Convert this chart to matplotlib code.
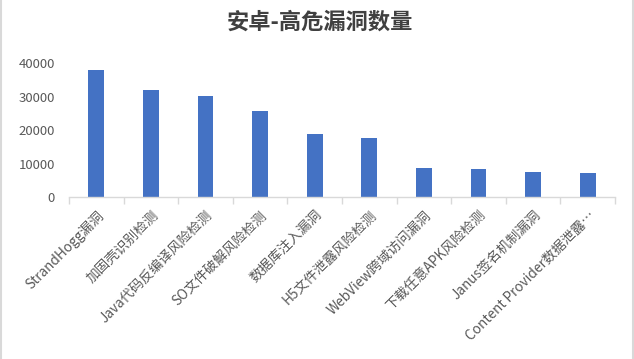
import numpy as np
import matplotlib
matplotlib.use('Agg')
import matplotlib.pyplot as plt
from matplotlib.lines import Line2D
from matplotlib.transforms import ScaledTranslation

plt.rcParams['font.family'] = ['Noto Sans CJK SC', 'DejaVu Sans']

categories = ['StrandHogg漏洞', '加固壳识别检测', 'Java代码反编译风险检测', 'SO文件破解风险检测',
              '数据库注入漏洞', 'H5文件泄露风险检测', 'WebView跨域访问漏洞', '下载任意APK风险检测',
              'Janus签名机制漏洞', 'Content Provider数据泄露…']
counts = [38000, 32000, 30300, 25800, 18900, 17700, 8700, 8400, 7500, 7200]
yticks = [0, 10000, 20000, 30000, 40000]

fig = plt.figure(figsize=(6.34, 3.59), dpi=100)
ax = fig.add_axes([69 / 634, 1 - 197 / 359, 546 / 634, 133.5 / 359])

x = np.arange(len(categories))
ax.bar(x, counts, width=0.29, color='#4472C4')
ax.set_xlim(-0.5, len(categories) - 0.5)
ax.set_ylim(0, 40000)
ax.set_yticks(yticks)
ax.set_yticklabels([str(v) for v in yticks], fontsize=9.5, color='#595959')

ax.set_xticks(x)
ax.set_xticklabels(categories, rotation=45, ha='right', va='top', rotation_mode='anchor',
                   fontsize=9.8, color='#595959')
shift = ScaledTranslation(14 / 100, 0, fig.dpi_scale_trans)
for lbl in ax.get_xticklabels():
    lbl.set_transform(lbl.get_transform() + shift)
ax.set_xticks(np.arange(-0.5, len(categories)), minor=True)
ax.tick_params(axis='x', which='major', length=0, pad=8)
ax.tick_params(axis='x', which='minor', length=5, color='#d9d9d9', width=1)
ax.tick_params(axis='y', length=0, pad=10)

for s in ['top', 'right', 'left']:
    ax.spines[s].set_visible(False)
ax.spines['bottom'].set_color('#d9d9d9')
ax.spines['bottom'].set_linewidth(1)

fig.text(0.505, 1 - 22 / 359, '安卓-高危漏洞数量', ha='center', va='center',
         fontsize=16, fontweight='bold', color='#404040')

fig.add_artist(Line2D([0.001, 0.001], [0, 1], transform=fig.transFigure, color='#d9d9d9', lw=1.5))
fig.add_artist(Line2D([0.999, 0.999], [0, 1], transform=fig.transFigure, color='#d9d9d9', lw=1.5))

fig.savefig('out.png', dpi=100)
